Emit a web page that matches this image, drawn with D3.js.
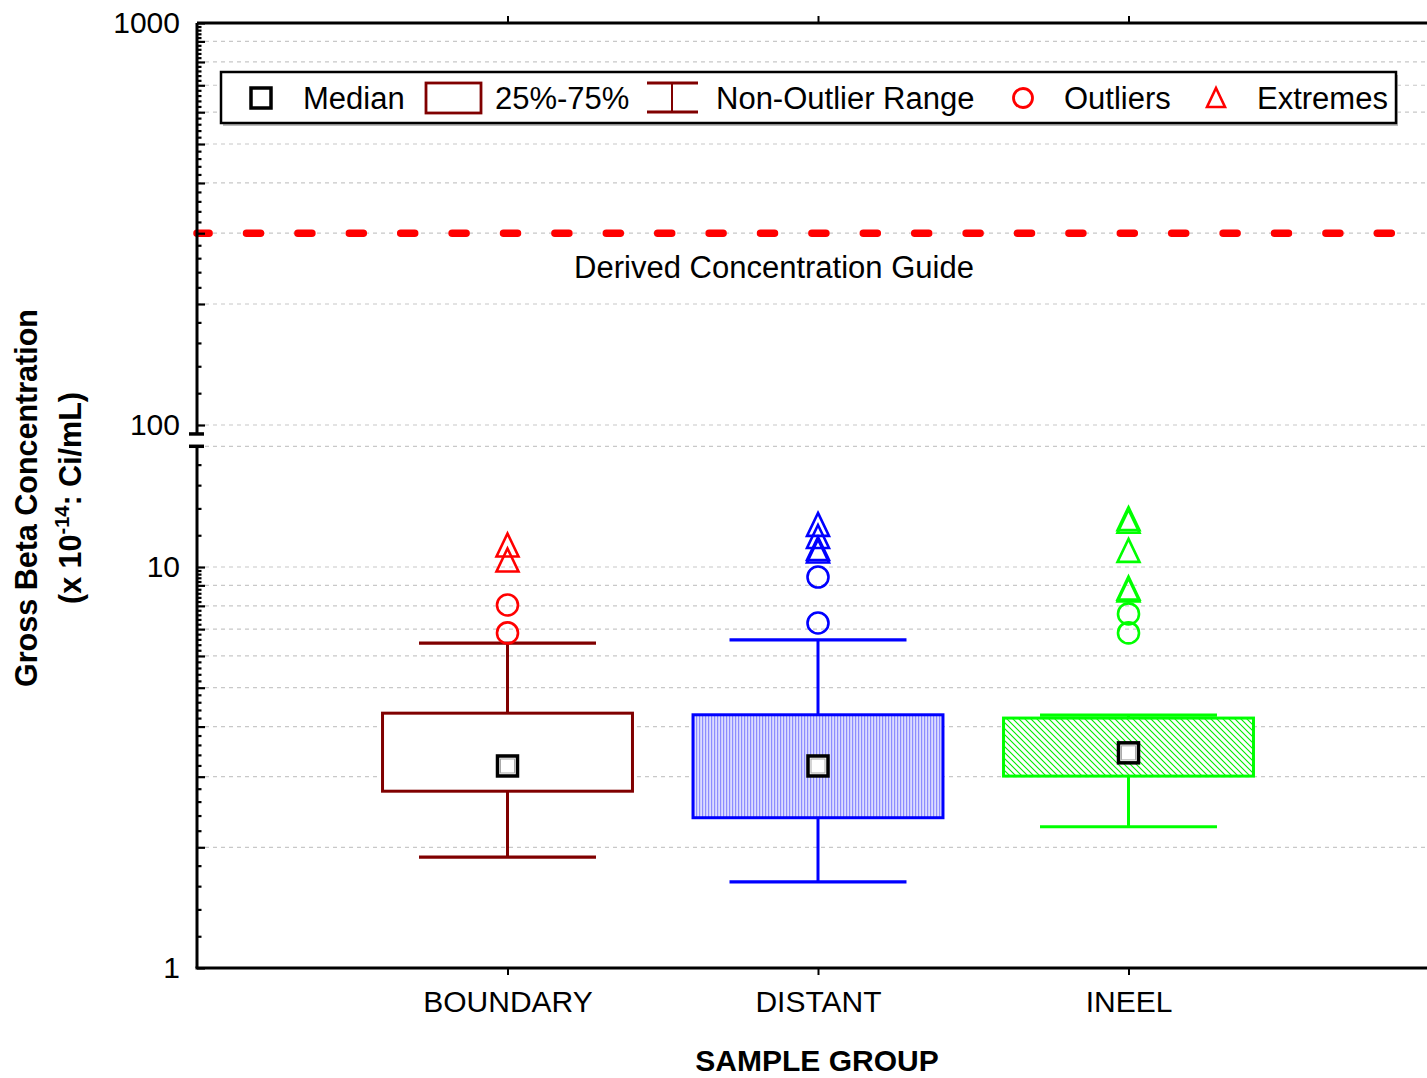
<!DOCTYPE html>
<html>
<head>
<meta charset="utf-8">
<script src="https://cdn.jsdelivr.net/npm/d3@7"></script>
<style>
  html, body { margin: 0; padding: 0; background: #fff; }
  svg { display: block; font-family: "Liberation Sans", Arial, sans-serif; }
</style>
</head>
<body>
<svg id="chart" width="1427" height="1078"></svg>
<script>
// ---- data ----
const categories = ["BOUNDARY", "DISTANT", "INEEL"];
const q1 = [2.76, 2.37, 3.01];
const q3 = [4.32, 4.28, 4.20];
const medians = [3.19, 3.19, 3.44];
const whiskerLow = [1.89, 1.64, 2.25];
const whiskerHigh = [6.46, 6.58, 4.27];
const outliers = [[8.04, 6.85], [9.44, 7.25], [7.64, 6.85]];
const extremes = [[11.35, 10.41], [12.77, 11.91, 11.12, 10.96], [13.2, 13.0, 11.0, 8.86, 8.77]];
const dcgValue = 300;
const dcgLabel = "Derived Concentration Guide";
const lowerLabels = [1, 10];
const upperLabels = [100, 1000];
const legendLabels = ["Median", "25%-75%", "Non-Outlier Range", "Outliers", "Extremes"];
const xTitle = "SAMPLE GROUP";
const yTitle = "Gross Beta Concentration";

// ---- styling ----
const boxStroke = ["#800000", "#0000ff", "#00ff00"];
const markColor = ["#ff0000", "#0000ff", "#00ff00"];
const boxFill = ["#ffffff", "url(#vstripes)", "url(#hatch)"];

const svg = d3.select("#chart");
const plotLeft = 197, plotRight = 1439, plotBottom = 968, plotTop = 23;

// Broken log axis: lower segment 1..20, upper segment 95..1000
const lowerMax = 20, upperMin = 95;
const yLow = d3.scaleLog().domain([1, 10]).range([968, 567]);
const yHigh = d3.scaleLog().domain([100, 1000]).range([425, 23]);
const y = v => v <= lowerMax ? yLow(v) : yHigh(v);

const x = d3.scalePoint().domain(categories).range([plotLeft, plotRight]).padding(1);
const step = x.step();
const boxW = step * 0.805, capW = step * 0.57;

// patterns
const defs = svg.append("defs");
const vs = defs.append("pattern").attr("id", "vstripes").attr("patternUnits", "userSpaceOnUse")
  .attr("width", 3).attr("height", 10);
vs.append("rect").attr("width", 3).attr("height", 10).attr("fill", "#dcdcff");
vs.append("rect").attr("width", 1.2).attr("height", 10).attr("fill", "#8c8cff");
const ht = defs.append("pattern").attr("id", "hatch").attr("patternUnits", "userSpaceOnUse")
  .attr("width", 6).attr("height", 6);
ht.append("rect").attr("width", 6).attr("height", 6).attr("fill", "#ffffff");
ht.append("path").attr("d", "M-1,-1 L7,7 M-1,5 L1,7 M5,-1 L7,1")
  .attr("stroke", "#00ee00").attr("stroke-width", 1.1);

// gridlines
const gridLow = d3.range(2, 11).concat([20]);
const gridHigh = d3.range(100, 1000, 100);
svg.append("g").selectAll("line").data(gridLow.map(yLow).concat(gridHigh.map(yHigh)))
  .join("line")
  .attr("x1", plotLeft).attr("x2", 1427).attr("y1", d => d).attr("y2", d => d)
  .attr("stroke", "#c8c8c8").attr("stroke-width", 1.2).attr("stroke-dasharray", "4,4");

// derived concentration guide line
svg.append("line")
  .attr("x1", plotLeft).attr("x2", 1427).attr("y1", y(dcgValue)).attr("y2", y(dcgValue))
  .attr("stroke", "#ff0000").attr("stroke-width", 7.5)
  .attr("stroke-linecap", "round")
  .attr("stroke-dasharray", "14,37.4").attr("stroke-dashoffset", 1.9);
svg.append("text").attr("x", 774).attr("y", y(dcgValue) + 45)
  .attr("text-anchor", "middle").attr("font-size", 31).attr("fill", "#000").text(dcgLabel);

// boxes
const g = svg.append("g");
categories.forEach((c, i) => {
  const cx = x(c);
  const col = boxStroke[i];
  // whiskers
  g.append("line").attr("x1", cx).attr("x2", cx).attr("y1", y(whiskerHigh[i])).attr("y2", y(q3[i]))
    .attr("stroke", col).attr("stroke-width", 3);
  g.append("line").attr("x1", cx).attr("x2", cx).attr("y1", y(q1[i])).attr("y2", y(whiskerLow[i]))
    .attr("stroke", col).attr("stroke-width", 3);
  [whiskerHigh[i], whiskerLow[i]].forEach(v => {
    g.append("line").attr("x1", cx - capW / 2).attr("x2", cx + capW / 2).attr("y1", y(v)).attr("y2", y(v))
      .attr("stroke", col).attr("stroke-width", 3.2);
  });
  // box
  g.append("rect").attr("x", cx - boxW / 2).attr("width", boxW)
    .attr("y", y(q3[i])).attr("height", y(q1[i]) - y(q3[i]))
    .attr("fill", boxFill[i]).attr("stroke", col).attr("stroke-width", 3);
  // median
  const my = y(medians[i]);
  g.append("rect").attr("x", cx - 10).attr("y", my - 10).attr("width", 20).attr("height", 20)
    .attr("fill", "#fff").attr("stroke", "#000").attr("stroke-width", 3.5);
  g.append("rect").attr("x", cx - 7).attr("y", my - 7).attr("width", 14).attr("height", 14)
    .attr("fill", "none").attr("stroke", "#aaa").attr("stroke-width", 1);
  // outliers
  outliers[i].forEach(v => {
    g.append("circle").attr("cx", cx).attr("cy", y(v)).attr("r", 10.5)
      .attr("fill", "none").attr("stroke", markColor[i]).attr("stroke-width", 2.6);
  });
  // extremes
  extremes[i].forEach(v => {
    g.append("path").attr("transform", `translate(${cx},${y(v)})`)
      .attr("d", "M0,-11.5 L11,11.5 L-11,11.5 Z")
      .attr("fill", "none").attr("stroke", markColor[i]).attr("stroke-width", 2.6);
  });
});

// frame lines
svg.append("line").attr("x1", plotLeft).attr("x2", 1427).attr("y1", plotTop).attr("y2", plotTop)
  .attr("stroke", "#000").attr("stroke-width", 3);
svg.append("line").attr("x1", plotLeft - 1.5).attr("x2", 1427).attr("y1", plotBottom).attr("y2", plotBottom)
  .attr("stroke", "#000").attr("stroke-width", 3);
// y axis segments
svg.append("line").attr("x1", plotLeft).attr("x2", plotLeft).attr("y1", plotBottom).attr("y2", yLow(lowerMax))
  .attr("stroke", "#000").attr("stroke-width", 3);
svg.append("line").attr("x1", plotLeft).attr("x2", plotLeft).attr("y1", yHigh(upperMin)).attr("y2", plotTop)
  .attr("stroke", "#000").attr("stroke-width", 3);
// break marks
[yLow(lowerMax), yHigh(upperMin)].forEach(v => {
  svg.append("line").attr("x1", plotLeft - 8).attr("x2", plotLeft + 7).attr("y1", v).attr("y2", v)
    .attr("stroke", "#000").attr("stroke-width", 3.5);
});

// y ticks
const lowMajor = d3.range(1, 11);
const lowMinor = [];
for (let k = 1; k < 10; k++) for (let s = 1; s < 5; s++) lowMinor.push(k + s * 0.2);
[12, 14, 16, 18].forEach(v => lowMinor.push(v));
const highMajor = d3.range(100, 1001, 100);
const highMinor = d3.range(120, 1000, 20).filter(v => v % 100 !== 0);

function tickAxis(scale, values, size) {
  const a = d3.axisRight(scale).tickValues(values).tickSize(size).tickFormat("");
  const sel = svg.append("g").attr("transform", `translate(${plotLeft},0)`).call(a);
  sel.select(".domain").remove();
  sel.selectAll("line").attr("stroke", "#000").attr("stroke-width", 2.2);
}
tickAxis(yLow, lowMajor, 8);
tickAxis(yLow, lowMinor, 4.5);
tickAxis(yHigh, highMajor, 8);
tickAxis(yHigh, highMinor, 4.5);

function labelAxis(scale, values) {
  const a = d3.axisLeft(scale).tickValues(values).tickSize(0).tickPadding(17).tickFormat(d3.format("d"));
  const sel = svg.append("g").attr("transform", `translate(${plotLeft},0)`).call(a);
  sel.select(".domain").remove();
  sel.selectAll("text").attr("font-size", 30).attr("font-family", "Liberation Sans, Arial, sans-serif")
    .attr("fill", "#000").attr("dy", "0.33em");
}
labelAxis(yLow, lowerLabels);
labelAxis(yHigh, upperLabels);

// x axis ticks and labels
const xb = d3.axisBottom(x).tickSize(7).tickPadding(16);
const xg = svg.append("g").attr("transform", `translate(0,${plotBottom})`).call(xb);
xg.select(".domain").remove();
xg.selectAll("line").attr("stroke", "#000").attr("stroke-width", 2);
xg.selectAll("text").attr("font-size", 30).attr("font-family", "Liberation Sans, Arial, sans-serif")
  .attr("fill", "#000");
const xt = d3.axisBottom(x).tickSize(-7).tickFormat("");
const xtg = svg.append("g").attr("transform", `translate(0,${plotTop})`).call(xt);
xtg.select(".domain").remove();
xtg.selectAll("line").attr("stroke", "#000").attr("stroke-width", 2);

// axis titles
svg.append("text").attr("x", 817).attr("y", 1071).attr("text-anchor", "middle")
  .attr("font-size", 30).attr("font-weight", "bold").text(xTitle);
svg.append("text").attr("transform", "translate(37,498) rotate(-90)").attr("text-anchor", "middle")
  .attr("font-size", 30.5).attr("font-weight", "bold").text(yTitle);
const t2 = svg.append("text").attr("transform", "translate(81,498) rotate(-90)").attr("text-anchor", "middle")
  .attr("font-size", 30.5).attr("font-weight", "bold");
t2.append("tspan").text("(x 10");
t2.append("tspan").attr("font-size", 20).attr("dy", -12).text("-14");
t2.append("tspan").attr("dy", 12).text(":  Ci/mL)");

// legend
const lg = svg.append("g");
lg.append("rect").attr("x", 223).attr("y", 75).attr("width", 1175).attr("height", 51).attr("fill", "#bbb");
lg.append("rect").attr("x", 221).attr("y", 72).attr("width", 1175).attr("height", 51)
  .attr("fill", "#fff").attr("stroke", "#000").attr("stroke-width", 2.5);
const ly = 98;
lg.append("rect").attr("x", 251).attr("y", ly - 10).attr("width", 20).attr("height", 20)
  .attr("fill", "#fff").attr("stroke", "#000").attr("stroke-width", 3.5);
lg.append("rect").attr("x", 426).attr("y", ly - 15).attr("width", 55).attr("height", 30)
  .attr("fill", "#fff").attr("stroke", boxStroke[0]).attr("stroke-width", 2.8);
lg.append("line").attr("x1", 647).attr("x2", 698).attr("y1", ly - 15).attr("y2", ly - 15).attr("stroke", boxStroke[0]).attr("stroke-width", 2.8);
lg.append("line").attr("x1", 647).attr("x2", 698).attr("y1", ly + 14).attr("y2", ly + 14).attr("stroke", boxStroke[0]).attr("stroke-width", 2.8);
lg.append("line").attr("x1", 672).attr("x2", 672).attr("y1", ly - 15).attr("y2", ly + 14).attr("stroke", boxStroke[0]).attr("stroke-width", 2);
lg.append("circle").attr("cx", 1023).attr("cy", ly).attr("r", 9.5).attr("fill", "none")
  .attr("stroke", markColor[0]).attr("stroke-width", 2.8);
lg.append("path").attr("transform", `translate(1216,${ly})`).attr("d", "M0,-10 L9,9 L-9,9 Z")
  .attr("fill", "none").attr("stroke", markColor[0]).attr("stroke-width", 2.6);
const lx = [303, 495, 716, 1064, 1257];
legendLabels.forEach((t, i) => {
  lg.append("text").attr("x", lx[i]).attr("y", ly + 11).attr("font-size", 31).attr("fill", "#000").text(t);
});
</script>
</body>
</html>
